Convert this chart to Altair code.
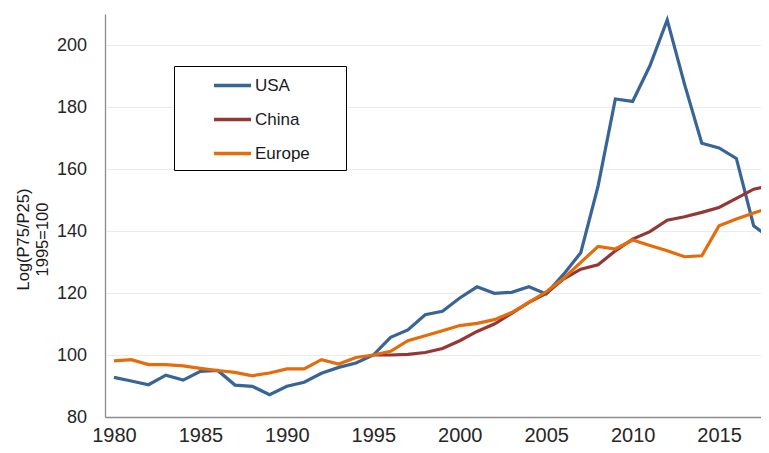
import altair as alt
import pandas as pd

years = list(range(1980, 2019))

usa = [92.8, 91.6, 90.4, 93.5, 91.9, 94.7, 95.0, 90.3, 89.9, 87.2,
       89.9, 91.2, 94.1, 96.0, 97.4, 100.0, 105.7, 108.1, 113.0, 114.1,
       118.4, 122.0, 119.9, 120.2, 122.0, 119.7, 126.0, 133.0, 154.5, 182.6,
       181.8, 193.3, 208.1, 187.4, 168.3, 166.8, 163.4, 141.7, 137.5]

china_years = list(range(1995, 2019))
china = [100.0, 100.0, 100.2, 100.8, 102.1, 104.6, 107.6, 110.0, 113.4, 117.0,
         119.9, 124.5, 127.7, 129.1, 133.6, 137.4, 139.8, 143.5, 144.6, 146.0,
         147.6, 150.5, 153.5, 154.6]

europe = [98.1, 98.5, 96.9, 96.9, 96.5, 95.7, 95.0, 94.4, 93.3, 94.2,
          95.5, 95.5, 98.5, 97.1, 99.2, 100.0, 101.2, 104.6, 106.2, 107.8,
          109.5, 110.2, 111.4, 113.7, 117.0, 120.4, 124.7, 129.9, 135.0, 134.2,
          137.1, 135.3, 133.6, 131.7, 132.0, 141.7, 143.9, 145.8, 147.6]

series = ["USA", "China", "Europe"]
colors = ["#386496", "#953735", "#E46C0A"]
x_ticks = [1980, 1985, 1990, 1995, 2000, 2005, 2010, 2015]
y_ticks = [80, 100, 120, 140, 160, 180, 200]

rows = []
for y, v in zip(years, usa):
    rows.append({"year": y, "value": v, "region": "USA", "order": 0})
for y, v in zip(china_years, china):
    rows.append({"year": y, "value": v, "region": "China", "order": 1})
for y, v in zip(years, europe):
    rows.append({"year": y, "value": v, "region": "Europe", "order": 2})
df = pd.DataFrame(rows)

FONT = "Liberation Sans, Arial, sans-serif"

chart = alt.Chart(df).mark_line(strokeWidth=3.2, clip=True).encode(
    x=alt.X("year:Q",
            scale=alt.Scale(domain=[1979.48, 2017.83], nice=False, zero=False),
            axis=alt.Axis(values=x_ticks, format="d", grid=False, ticks=False,
                          labelFontSize=20, labelPadding=8, labelColor="#262626",
                          labelFont=FONT, domainColor="#8c8c8c", domainWidth=1.3,
                          labelFlush=False, labelOverlap=False, title=None)),
    y=alt.Y("value:Q",
            scale=alt.Scale(domain=[80, 210], nice=False, zero=False),
            axis=alt.Axis(values=y_ticks, grid=True, gridColor="#ebebeb", gridWidth=1,
                          ticks=False, labelFontSize=18, labelPadding=18.5,
                          labelColor="#262626", labelFont=FONT,
                          domainColor="#8c8c8c", domainWidth=1.3,
                          title=["Log(P75/P25)", "1995=100"],
                          titleFont=FONT, titleFontSize=16.5, titleFontWeight="normal",
                          titleColor="#1a1a1a", titleAngle=270, titleAlign="center",
                          titleBaseline="alphabetic", titleX=-77, titleY=225,
                          titleLineHeight=19)),
    color=alt.Color("region:N",
                    scale=alt.Scale(domain=series, range=colors),
                    sort=series,
                    legend=alt.Legend(orient="none", legendX=69, legendY=52,
                                      padding=8, strokeColor="black", fillColor="white",
                                      symbolType="M-1.9,0H1.9", symbolSize=380,
                                      symbolStrokeWidth=3.5, symbolOffset=39,
                                      labelOffset=11, labelFontSize=17, labelFont=FONT,
                                      labelColor="#1a1a1a", rowPadding=14,
                                      title="\u00a0", titleOrient="right",
                                      titlePadding=28, titleFontSize=10)),
    order=alt.Order("order:Q"),
).properties(
    width=663,
    height=403,
    padding={"left": 97, "top": 6, "right": -7, "bottom": 28},
    autosize=alt.AutoSizeParams(type="none"),
).configure_view(stroke=None)

chart.save("out.html", embed_options={"renderer": "svg", "actions": False})
